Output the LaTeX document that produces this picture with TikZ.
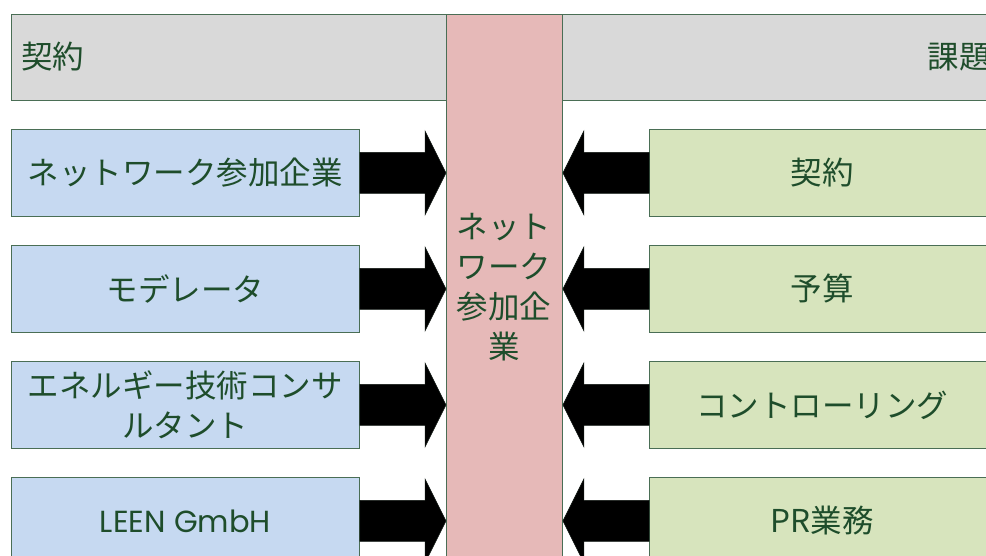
\documentclass[tikz,border=0pt]{standalone}
\usepackage{fontspec}
\newfontfamily\cjk{Noto Sans CJK JP}
\newfontfamily\latinsans{Poppins}
\usetikzlibrary{calc}
\definecolor{edgec}{HTML}{4A6E55}
\definecolor{txtc}{HTML}{1E4D2B}
\definecolor{grayc}{HTML}{D9D9D9}
\definecolor{pinkc}{HTML}{E6B9B8}
\definecolor{bluec}{HTML}{C6D9F1}
\definecolor{greenc}{HTML}{D7E4BD}
\tikzset{
  jpfont/.style={font=\cjk\fontsize{31.5}{40}\selectfont},
  base/.style={draw=edgec, line width=0.9pt, text=txtc, inner sep=0pt, jpfont, align=center},
  hdr/.style={base, fill=grayc, minimum height=86pt},
  bluebox/.style={base, fill=bluec, minimum width=348pt, minimum height=87pt},
  greenbox/.style={base, fill=greenc, minimum width=346pt, minimum height=87pt},
  fatarrow/.style={fill=black, draw=black!80!edgec, line width=0.5pt}
}
\begin{document}
\begin{tikzpicture}[x=1pt,y=-1pt]
\useasboundingbox (0,0) rectangle (986,556);
\clip (0,0) rectangle (986,556);
% header bars
\node[hdr, minimum width=435pt, anchor=north west] (hL) at (11,14) {};
\node[anchor=west, text=txtc, inner sep=0pt, jpfont] (hLt) at (21,57) {契約};
\node[hdr, minimum width=450pt, anchor=north west] (hR) at (562,14) {};
\node[anchor=east, text=txtc, inner sep=0pt, jpfont] (hRt) at (991,57) {課題};
% center column
\node[base, fill=pinkc, minimum width=116pt, minimum height=600pt, anchor=north west] (col) at (446,14) {};
\node[text=txtc, align=center, jpfont] (colt) at (504,287) {ネット\\ワーク\\参加企\\業};
% left boxes
\node[bluebox, anchor=north west] (L1) at (11,129) {ネットワーク参加企業};
\node[bluebox, anchor=north west] (L2) at (11,245) {モデレータ};
\node[bluebox, anchor=north west] (L3) at (11,361) {エネルギー技術コンサ\\ルタント};
\node[bluebox, anchor=north west, font=\latinsans\fontsize{30.5}{36}\selectfont] (L4) at (11,477) {LEEN GmbH};
% right boxes
\node[greenbox, anchor=north west] (R1) at (649,129) {契約};
\node[greenbox, anchor=north west] (R2) at (649,245) {予算};
\node[greenbox, anchor=north west] (R3) at (649,361) {コントローリング};
\node[greenbox, anchor=north west] (R4) at (649,477) {PR業務};
% arrows
\foreach \i in {1,2,3,4}{
  \coordinate (tl\i) at (col.west |- L\i.east);
  \fill[fatarrow] ($(L\i.east)+(0,-20.5)$) -- ($(tl\i)+(-21,-20.5)$) -- ($(tl\i)+(-21,-42)$) -- (tl\i)
     -- ($(tl\i)+(-21,42)$) -- ($(tl\i)+(-21,20.5)$) -- ($(L\i.east)+(0,20.5)$) -- cycle;
  \coordinate (tr\i) at (col.east |- R\i.west);
  \fill[fatarrow] ($(R\i.west)+(0,-20.5)$) -- ($(tr\i)+(21,-20.5)$) -- ($(tr\i)+(21,-42)$) -- (tr\i)
     -- ($(tr\i)+(21,42)$) -- ($(tr\i)+(21,20.5)$) -- ($(R\i.west)+(0,20.5)$) -- cycle;
}
\end{tikzpicture}
\end{document}
